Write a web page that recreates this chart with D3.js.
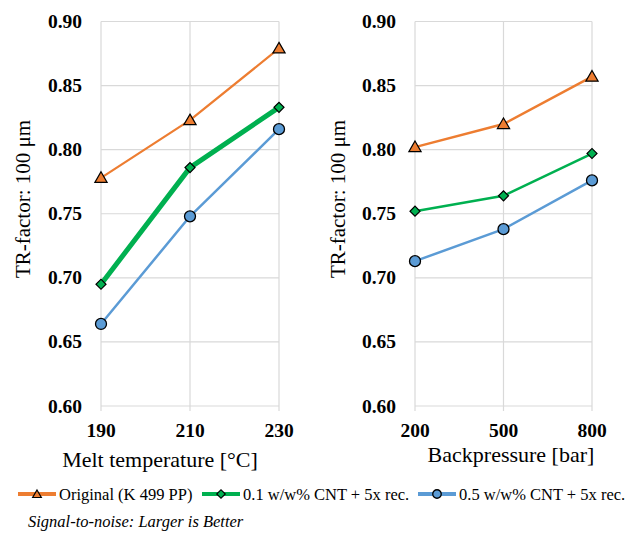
<!DOCTYPE html>
<html>
<head>
<meta charset="utf-8">
<script src="https://cdn.jsdelivr.net/npm/d3@7"></script>
<style>
  body { margin: 0; background: #fff; }
</style>
</head>
<body>
<script>
var w = 636, h = 533;

// categories
var meltTemps = ["190", "210", "230"];
var backPressures = ["200", "500", "800"];
var yTicks = [0.60, 0.65, 0.70, 0.75, 0.80, 0.85, 0.90];

// series
var seriesNames = ["Original (K 499 PP)", "0.1 w/w% CNT + 5x rec.", "0.5 w/w% CNT + 5x rec."];
var seriesColors = ["#ED7D31", "#00B050", "#5B9BD5"];
var seriesShapes = ["triangle", "diamond", "circle"];

// TR-factor vs melt temperature
var meltOriginal = [0.778, 0.823, 0.879];
var meltCnt01 = [0.695, 0.786, 0.833];
var meltCnt05 = [0.664, 0.748, 0.816];

// TR-factor vs backpressure
var bpOriginal = [0.802, 0.820, 0.857];
var bpCnt01 = [0.752, 0.764, 0.797];
var bpCnt05 = [0.713, 0.738, 0.776];

var svg = d3.select("body").append("svg")
    .attr("width", w)
    .attr("height", h)
    .attr("font-family", "'Liberation Serif', 'Times New Roman', Times, 'DejaVu Serif', serif")

var y = d3.scaleLinear().domain([0.60, 0.90]).range([406, 21.5])

function marker(g, shape, color, s) {
    if (shape == "circle") {
        g.append("circle").attr("r", s * 0.5)
            .attr("fill", color).attr("stroke", "#000").attr("stroke-width", 1.3)
    } else if (shape == "triangle") {
        g.append("path").attr("d", d3.symbol().type(d3.symbolTriangle).size(s * s * 0.45)())
            .attr("fill", color).attr("stroke", "#000").attr("stroke-width", 1.2)
            .attr("transform", "translate(0,1)")
    } else {
        // square turned 45 degrees
        g.append("path").attr("d", d3.symbol().type(d3.symbolSquare).size(s * s * 0.5)())
            .attr("fill", color).attr("stroke", "#000").attr("stroke-width", 1.2)
            .attr("transform", "rotate(45)")
    }
}

function panel(opt) {
    var x = d3.scalePoint().domain(opt.cats).range([opt.x0, opt.x1])
    var g = svg.append("g")

    // gridlines
    g.selectAll(".hgrid").data(yTicks).enter().append("line")
        .attr("x1", opt.x0).attr("x2", opt.x1)
        .attr("y1", function (d) { return y(d) }).attr("y2", function (d) { return y(d) })
        .attr("stroke", "#d9d9d9").attr("stroke-width", 1.2)
    g.selectAll(".vgrid").data(opt.cats).enter().append("line")
        .attr("x1", function (d) { return x(d) }).attr("x2", function (d) { return x(d) })
        .attr("y1", y(0.90)).attr("y2", y(0.60) + 5)
        .attr("stroke", "#d9d9d9").attr("stroke-width", 1.2)

    // y tick labels
    g.selectAll(".ylab").data(yTicks).enter().append("text")
        .attr("x", opt.x0 - 19).attr("y", function (d) { return y(d) + 6.5 })
        .attr("text-anchor", "end").attr("font-weight", "bold").attr("font-size", 19.5)
        .text(function (d) { return d3.format(".2f")(d) })

    // x tick labels
    g.selectAll(".xlab").data(opt.cats).enter().append("text")
        .attr("x", function (d) { return x(d) }).attr("y", 437)
        .attr("text-anchor", "middle").attr("font-weight", "bold").attr("font-size", 19.5)
        .text(function (d) { return d })

    // axis titles
    g.append("text").attr("transform", "translate(" + opt.yTitleX + ",199) rotate(-90)")
        .attr("text-anchor", "middle").attr("font-size", 21)
        .text("TR-factor: 100 \u03bcm")
    g.append("text").attr("x", opt.titleX).attr("y", opt.titleY)
        .attr("text-anchor", "middle").attr("font-size", 22)
        .text(opt.title)

    // lines + markers
    opt.series.forEach(function (vals, i) {
        var line = d3.line().x(function (d, j) { return x(opt.cats[j]) }).y(function (d) { return y(d) })
        g.append("path").datum(vals).attr("d", line)
            .attr("fill", "none").attr("stroke", seriesColors[i])
            .attr("stroke-width", opt.widths[i]).attr("stroke-linejoin", "round")
        vals.forEach(function (v, j) {
            var m = g.append("g").attr("transform", "translate(" + x(opt.cats[j]) + "," + y(v) + ")")
            marker(m, seriesShapes[i], seriesColors[i], [12, 10, 11][i])
        })
    })
}

panel({
    cats: meltTemps, x0: 101, x1: 279,
    series: [meltOriginal, meltCnt01, meltCnt05],
    widths: [2.2, 5, 2.5],
    title: "Melt temperature [\u00b0C]", titleX: 160, titleY: 467, yTitleX: 30
})

panel({
    cats: backPressures, x0: 415, x1: 592,
    series: [bpOriginal, bpCnt01, bpCnt05],
    widths: [2.5, 2.5, 2.5],
    title: "Backpressure [bar]", titleX: 511, titleY: 462, yTitleX: 345
})

// legend
var legendX = [18, 202, 418]
seriesNames.forEach(function (name, i) {
    var lg = svg.append("g").attr("transform", "translate(" + legendX[i] + ",494)")
    lg.append("line").attr("x1", 0).attr("x2", 38).attr("stroke", seriesColors[i]).attr("stroke-width", 4)
    var m = lg.append("g").attr("transform", "translate(19,0)")
    marker(m, seriesShapes[i], seriesColors[i], 8.5)
    lg.append("text").attr("x", 41).attr("y", 5.5).attr("font-size", 16.5).text(name)
})

svg.append("text").attr("x", 28).attr("y", 527)
    .attr("font-style", "italic").attr("font-size", 16.5)
    .text("Signal-to-noise: Larger is Better")
</script>
</body>
</html>
